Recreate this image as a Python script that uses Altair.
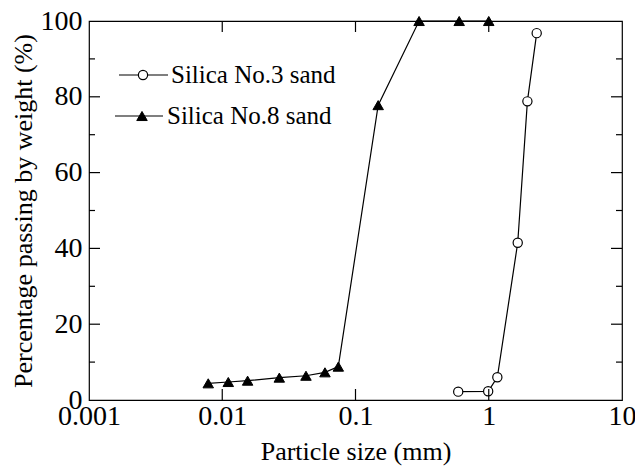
import altair as alt
import pandas as pd

# ---- data ----
series = ["Silica No.3 sand", "Silica No.8 sand"]
no3_size = [0.59, 0.99, 1.16, 1.65, 1.95, 2.29]
no3_pass = [2.2, 2.3, 6.0, 41.5, 78.8, 96.8]
no8_size = [0.00785, 0.0111, 0.0155, 0.0268, 0.0425, 0.059, 0.0743, 0.148, 0.30, 0.60, 1.0]
no8_pass = [4.4, 4.75, 5.1, 5.9, 6.4, 7.3, 8.8, 77.8, 100, 100, 100]
x_ticks = [0.001, 0.01, 0.1, 1, 10]
y_major = [0, 20, 40, 60, 80, 100]
y_minor = [10, 30, 50, 70, 90]

W, H = 533, 379
FONT = "Liberation Serif"

df3 = pd.DataFrame({"size": no3_size, "pass": no3_pass, "series": series[0]})
df8 = pd.DataFrame({"size": no8_size, "pass": no8_pass, "series": series[1]})
df = pd.concat([df3, df8], ignore_index=True)

xscale = alt.Scale(type="log", domain=[0.001, 10], nice=False)
yscale = alt.Scale(domain=[0, 100], nice=False)

xaxis = alt.Axis(values=x_ticks, format="~g", title="Particle size (mm)",
                 ticks=False, domain=False, grid=False, labelFlush=False,
                 labelPadding=2, titlePadding=8)
yaxis = alt.Axis(values=y_major, title="Percentage passing by weight (%)",
                 ticks=False, domain=False, grid=False, labelFlush=False,
                 labelPadding=7, titlePadding=4)
X = alt.X("size:Q", scale=xscale, axis=xaxis)
Y = alt.Y("pass:Q", scale=yscale, axis=yaxis)

lines = alt.Chart(df).mark_line(color="black", strokeWidth=1.2).encode(
    x=X, y=Y, detail="series:N")

pts3 = alt.Chart(df3).mark_point(shape="circle", filled=True, fill="white", stroke="black",
                                 strokeWidth=1.2, size=85, opacity=1).encode(x=X, y=Y)
pts8 = alt.Chart(df8).mark_point(shape="triangle-up", filled=True, fill="black", stroke="black",
                                 strokeWidth=1, size=110, opacity=1).encode(x=X, y=Y)

# inward ticks (mirrored on all four sides)
xt = pd.DataFrame({"size": x_ticks[1:-1]})
ymaj = pd.DataFrame({"pass": y_major[1:-1]})
ymin = pd.DataFrame({"pass": y_minor})
tick_style = dict(color="black", strokeWidth=1.2)
ticks = [
    alt.Chart(xt).mark_rule(**tick_style).encode(x=X, y=alt.value(H), y2=alt.value(H - 11)),
    alt.Chart(xt).mark_rule(**tick_style).encode(x=X, y=alt.value(0), y2=alt.value(11)),
    alt.Chart(ymaj).mark_rule(**tick_style).encode(y=Y, x=alt.value(0), x2=alt.value(11)),
    alt.Chart(ymaj).mark_rule(**tick_style).encode(y=Y, x=alt.value(W), x2=alt.value(W - 11)),
    alt.Chart(ymin).mark_rule(**tick_style).encode(y=Y, x=alt.value(0), x2=alt.value(6)),
    alt.Chart(ymin).mark_rule(**tick_style).encode(y=Y, x=alt.value(W), x2=alt.value(W - 6)),
]

# legend (top-left, inside the frame)
one = pd.DataFrame({"label": [series[0]]})
two = pd.DataFrame({"label": [series[1]]})
leg = [
    alt.Chart(one).mark_rule(color="black", strokeWidth=1.2).encode(
        x=alt.value(30), x2=alt.value(79), y=alt.value(54)),
    alt.Chart(one).mark_point(shape="circle", filled=True, fill="white", stroke="black",
                              strokeWidth=1.2, size=85, opacity=1).encode(
        x=alt.value(54), y=alt.value(54)),
    alt.Chart(one).mark_text(font=FONT, fontSize=25, align="left", baseline="middle",
                             color="black").encode(
        text="label:N", x=alt.value(82), y=alt.value(54)),
    alt.Chart(two).mark_rule(color="black", strokeWidth=1.2).encode(
        x=alt.value(26), x2=alt.value(74), y=alt.value(95)),
    alt.Chart(two).mark_point(shape="triangle-up", filled=True, fill="black", stroke="black",
                              strokeWidth=1, size=110, opacity=1).encode(
        x=alt.value(53), y=alt.value(95)),
    alt.Chart(two).mark_text(font=FONT, fontSize=25, align="left", baseline="middle",
                             color="black").encode(
        text="label:N", x=alt.value(78), y=alt.value(95)),
]

chart = alt.layer(lines, pts3, pts8, *ticks, *leg).properties(
    width=W, height=H,
    padding={"left": 89, "top": 21, "right": 13, "bottom": 70},
    autosize=alt.AutoSizeParams(type="none"),
    background="white",
).configure_view(
    stroke="black", strokeWidth=1.2
).configure_axis(
    labelFont=FONT, titleFont=FONT, labelFontSize=28, titleFontSize=26,
    labelColor="black", titleColor="black", titleFontWeight="normal"
)

chart.save("out.html", embed_options={"renderer": "svg", "actions": False})
